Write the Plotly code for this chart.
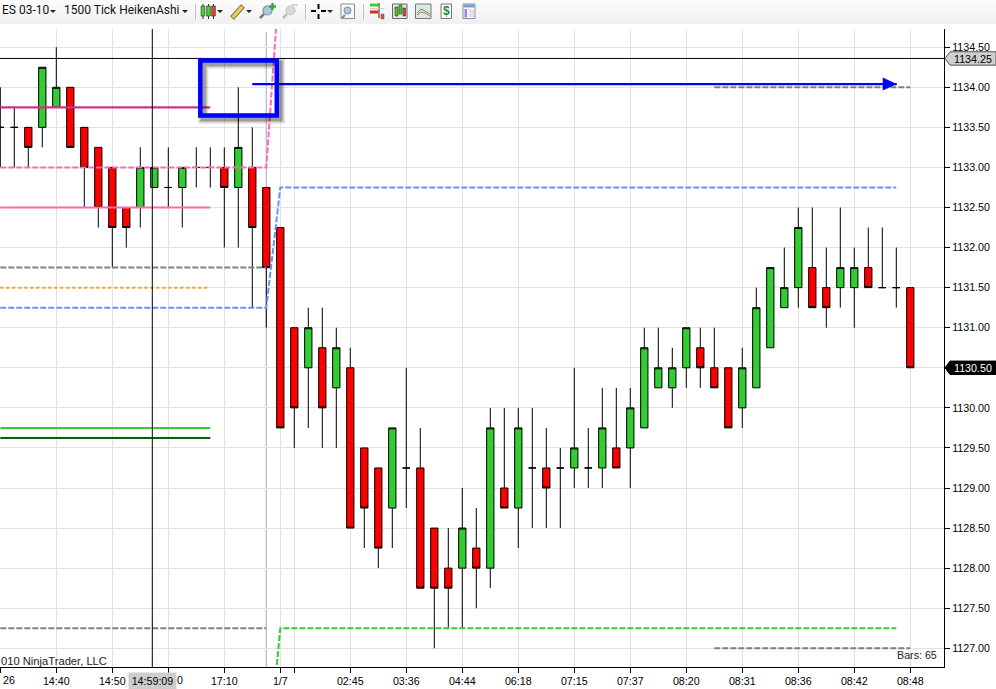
import plotly.graph_objects as go

W, H = 996, 689
L_PAD, R_PX, T_PX, B_PX = 0, 944, 29, 667

# ---- data ----
opens = [1133.5,1133.5,1133.5,1133.5,1133.75,1134,1133.5,1133.25,1133,1132.5,1132.5,1132.75,1132.75,1132.75,1133,1133,
         1133,1132.75,1133,1132.75,1132.25,1131,1130.5,1130.75,1130.25,1130.5,1129.5,1129.25,1128.75,1129.25,1129.25,
         1128.5,1128,1128,1128.25,1128,1129,1128.75,1129.25,1129.25,1129.25,1129.25,1129.25,1129.25,1129.5,1129.5,
         1129.75,1130.25,1130.25,1130.5,1130.75,1130.5,1130.5,1130,1130.25,1130.75,1131.25,1131.5,1131.75,1131.5,
         1131.5,1131.5,1131.75,1131.5,1131.5,1131.5]
highs = [1134,1133.75,1133.5,1134.25,1134.5,1134,1133.5,1133.25,1133,1132.5,1133.25,1133,1133.25,1133,1133.25,1133.25,
         1133.25,1134,1133.5,1132.75,1132.25,1131,1131.25,1131.25,1131,1130.75,1129.5,1129.25,1129.75,1130.5,1129.75,
         1128.5,1128.5,1129,1128.75,1130,1130,1130,1130,1129.75,1129.5,1130.5,1129.75,1130.25,1130.25,1130.25,
         1131,1131,1130.75,1131,1131,1131,1130.5,1130.75,1131.5,1131.75,1132,1132.5,1132.5,1132,
         1132.5,1132,1132.25,1132.25,1132,1131.5]
lows = [1133,1133,1133,1133.25,1133.75,1133.25,1132.5,1132.25,1131.75,1132,1132.25,1132.75,1132.5,1132.25,1132.75,1132.75,
        1132,1132,1131.25,1131,1129.75,1129.5,1129.75,1129.5,1129.5,1128.5,1128.25,1128,1128.25,1128.75,1127.75,
        1127,1127.25,1127.25,1127.5,1127.75,1128.75,1128.25,1128.5,1128.5,1128.5,1129,1129,1129,1129.25,1129,
        1129.75,1130.25,1130,1130.25,1130.25,1130.25,1129.75,1129.75,1130.25,1130.75,1131.25,1131.25,1131.25,1131,
        1131.25,1131,1131.5,1131.5,1131.25,1130.5]
closes = [1133.5,1133.5,1133.25,1134.25,1134,1133.25,1133,1132.5,1132.25,1132.25,1133,1133,1132.75,1133,1133,1133,
          1132.75,1133.25,1132.25,1131.75,1129.75,1130,1131,1130,1130.75,1128.5,1128.75,1128.25,1129.75,1129.25,1127.75,
          1127.75,1127.75,1128.5,1128,1129.75,1128.75,1129.75,1129.25,1129,1129.25,1129.5,1129.25,1129.75,1129.25,1130,
          1130.75,1130.5,1130.5,1131,1130.5,1130.25,1129.75,1130.5,1131.25,1131.75,1131.5,1132.25,1131.25,1131.25,
          1131.75,1131.75,1131.5,1131.5,1131.5,1130.5]
bar_index = list(range(len(opens)))

tick_index = [0, 4, 8, 12, 16, 20, 21, 25, 29, 33, 37, 41, 45, 49, 53, 57, 61, 65]
# the first label and the label behind the crosshair time are only partly visible: see annotations below
tick_labels = ["", "14:40", "14:50", "", "17:10", "1/7", "", "02:45", "03:36", "04:44",
               "06:18", "07:15", "07:37", "08:20", "08:31", "08:36", "08:42", "08:48"]
price_ticks = [1127 + 0.5 * k for k in range(16)]
last_price = 1130.5
cursor_price = 1134.25
price_labels = ["" if p == last_price else f"{p:.2f}" for p in price_ticks]

# indicator levels: (x indices, values)
mag_x, mag_y = [0, 15], [1133.75, 1133.75]
pink_x, pink_y = [0, 15], [1132.5, 1132.5]
orange_x, orange_y = [0, 15], [1131.5, 1131.5]
lime_x, lime_y = [0, 15], [1129.75, 1129.75]
dgreen_x, dgreen_y = [0, 15], [1129.625, 1129.625]
pinkd_x, pinkd_y = [0, 19, 20, 64], [1133, 1133, 1135.5, 1135.5]
blued_x, blued_y = [0, 19, 20, 64], [1131.25, 1131.25, 1132.75, 1132.75]
greend_x, greend_y = [19, 20, 64], [1125.4, 1127.25, 1127.25]
grey_a_x, grey_a_y = [0, 19], [1131.75, 1131.75]
grey_b_x, grey_b_y = [0, 19], [1127.25, 1127.25]
grey_c_x, grey_c_y = [51, 65], [1134, 1134]
grey_d_x, grey_d_y = [51, 65], [1127, 1127]
arrow_x, arrow_y = [18, 64.03], [1134.04, 1134.04]
cross_x, cross_y = 10.857, 1134.36


def ix(px):
    return (px - 0.3) / 14.0


x_range = [ix(0), ix(R_PX)]
PX_PER_PT = 80.14
def pr(py):
    return 1134 + (87.3 - py) / PX_PER_PT


y_range = [pr(B_PX), pr(T_PX)]
def xp(px):
    return px / R_PX
def yp(py):
    return (B_PX - py) / (B_PX - T_PX)


fig = go.Figure()


def level(x, y, color, width=2, dash="solid"):
    fig.add_trace(go.Scatter(x=x, y=y, mode="lines", line=dict(color=color, width=width, dash=dash),
                             hoverinfo="skip", showlegend=False))


DASH = "6px,2px"
level(mag_x, mag_y, "#c9348f", 2.2)
level(pink_x, pink_y, "#ff69b4", 2)
level(orange_x, orange_y, "#ff9a2e", 2, "dot")
level(lime_x, lime_y, "#32cd32", 2)
level(dgreen_x, dgreen_y, "#006400", 2)
level(pinkd_x, pinkd_y, "#ff69b4", 2, DASH)
level(blued_x, blued_y, "#6495ed", 2, DASH)
level(greend_x, greend_y, "#32cd32", 2, DASH)
level(grey_a_x, grey_a_y, "#808080", 2, DASH)
level(grey_b_x, grey_b_y, "#808080", 2, DASH)
level(grey_c_x, grey_c_y, "#808080", 2, DASH)
level(grey_d_x, grey_d_y, "#808080", 2, DASH)

fig.add_trace(go.Candlestick(
    x=bar_index, open=opens, high=highs, low=lows, close=closes, whiskerwidth=0,
    increasing=dict(fillcolor="#32cd32", line=dict(color="#000000", width=1)),
    decreasing=dict(fillcolor="#ff0000", line=dict(color="#000000", width=1)),
    hoverinfo="skip", showlegend=False))

level(arrow_x, arrow_y, "#0000ff", 2.3)

shapes = []
annots = []

# grid starts a little below the top of the axis
shapes.append(dict(type="rect", xref="paper", yref="paper", x0=0, x1=1, y0=yp(32), y1=1, layer="below",
                   fillcolor="#ffffff", line=dict(width=0)))
# session break and crosshair
shapes.append(dict(type="line", xref="x", yref="paper", x0=19, x1=19, y0=0, y1=yp(32), layer="below",
                   line=dict(color="#bdbdbd", width=1.3)))
shapes.append(dict(type="line", xref="x", yref="paper", x0=cross_x, x1=cross_x, y0=0, y1=1,
                   line=dict(color="#000000", width=1)))
shapes.append(dict(type="line", xref="paper", yref="y", x0=0, x1=1, y0=cross_y, y1=cross_y,
                   line=dict(color="#000000", width=1)))

# arrow head
shapes.append(dict(type="path", xref="x", yref="y", xsizemode="pixel", ysizemode="pixel",
                   xanchor=arrow_x[-1], yanchor=arrow_y[-1], path="M 0 0 L -14 6.5 L -14 -6.5 Z",
                   fillcolor="#0000ff", line=dict(width=0)))

# highlight box with soft shadow
for off, w, op in [(3, 11, 0.07), (3, 9, 0.09), (3, 7, 0.12), (3, 5, 0.16)]:
    shapes.append(dict(type="rect", xref="paper", yref="paper", x0=xp(200.3 + off), x1=xp(276.8 + off),
                       y0=yp(115.5 + off), y1=yp(60.5 + off), line=dict(color="rgba(0,0,0,%s)" % op, width=w)))
shapes.append(dict(type="rect", xref="paper", yref="paper", x0=xp(200.3), x1=xp(276.8), y0=yp(115.5), y1=yp(60.5),
                   line=dict(color="#0000ff", width=4.5)))

# price tags on the right axis
TAG = "M 1 0 L 6 -6.7 L 52 -6.7 L 52 6.7 L 6 6.7 Z"
shapes.append(dict(type="path", xref="paper", yref="y", xsizemode="pixel", ysizemode="pixel", xanchor=1,
                   yanchor=cross_y, path=TAG, fillcolor="#cfcfcf",
                   line=dict(color="#555555", width=1)))
shapes.append(dict(type="path", xref="paper", yref="y", xsizemode="pixel", ysizemode="pixel", xanchor=1,
                   yanchor=last_price, path=TAG, fillcolor="#000000", line=dict(color="#000000", width=1)))
annots.append(dict(xref="paper", yref="y", x=1, y=cross_y, xshift=8, yshift=-1, xanchor="left", yanchor="middle",
                   text=f"{cursor_price:.2f}", showarrow=False, font=dict(color="#000000", size=10.7)))
annots.append(dict(xref="paper", yref="y", x=1, y=last_price, xshift=8, yshift=0, xanchor="left", yanchor="middle",
                   text=f"{last_price:.2f}", showarrow=False, font=dict(color="#ffffff", size=10.7)))

# crosshair time, clipped tick labels, copyright, bars count
annots.append(dict(xref="x", yref="paper", x=cross_x, y=yp(680.5), yanchor="middle", xanchor="center",
                   text="14:59:09", showarrow=False, bgcolor="#cdcdcd", borderpad=2,
                   font=dict(color="#000000", size=10.7), width=43))
annots.append(dict(xref="paper", yref="paper", x=xp(175), y=yp(680), xanchor="left", yanchor="middle",
                   text="0", showarrow=False, font=dict(color="#000000", size=10.7)))
annots.append(dict(xref="paper", yref="paper", x=xp(1), y=yp(680), xanchor="left", yanchor="middle",
                   text="26", showarrow=False, font=dict(color="#000000", size=10.7)))
annots.append(dict(xref="paper", yref="paper", x=xp(-1), y=yp(661), xanchor="left", yanchor="middle",
                   text="010 NinjaTrader, LLC", showarrow=False, font=dict(color="#222222", size=11.2)))
annots.append(dict(xref="paper", yref="paper", x=xp(939), y=yp(655), xanchor="right", yanchor="middle",
                   text="Bars: 65", showarrow=False, font=dict(color="#222222", size=10.7)))

# ---- toolbar ----
strips = ["#fbfbfb", "#f9f9f9", "#f7f7f7", "#f5f5f5", "#f3f3f3", "#f1f1f1"]
for k, c in enumerate(strips):
    shapes.append(dict(type="rect", xref="paper", yref="paper", x0=0, x1=xp(W), y0=yp(4 * (k + 1)), y1=yp(4 * k),
                       fillcolor=c, line=dict(width=0)))
def rect(x0, y0, x1, y1, fill, line=None, lw=1):
    shapes.append(dict(type="rect", xref="paper", yref="paper", x0=xp(x0), x1=xp(x1), y0=yp(y1), y1=yp(y0),
                       fillcolor=fill, line=dict(color=line, width=lw) if line else dict(width=0)))
def seg(x0, y0, x1, y1, color, lw=1):
    shapes.append(dict(type="line", xref="paper", yref="paper", x0=xp(x0), x1=xp(x1), y0=yp(y0), y1=yp(y1),
                       line=dict(color=color, width=lw)))
def circ(x0, y0, x1, y1, fill, line, lw=1):
    shapes.append(dict(type="circle", xref="paper", yref="paper", x0=xp(x0), x1=xp(x1), y0=yp(y1), y1=yp(y0),
                       fillcolor=fill, line=dict(color=line, width=lw)))
def caret(cx, cy=11):
    shapes.append(dict(type="path", xref="paper", yref="paper",
                       path=f"M {xp(cx-3)} {yp(cy-1)} L {xp(cx+3)} {yp(cy-1)} L {xp(cx)} {yp(cy+2)} Z",
                       fillcolor="#222222", line=dict(width=0)))
for c in [53, 185, 220, 249, 330]:
    caret(c)
for s in [195.5, 305.5, 363.5]:
    seg(s, 4, s, 20, "#c4c4c4", 1)
for cx, col in [(203, "#44dd22"), (208.5, "#44dd22"), (213.5, "#ee4433")]:
    seg(cx, 4, cx, 19, "#333333", 1)
    rect(cx - 1.8, 6, cx + 1.8, 16, col, "#333333", 0.7)
seg(232, 18, 243, 6, "#555555", 5)
seg(232.5, 17.5, 242.5, 6.5, "#f6c945", 3.4)
seg(260, 18, 264, 14, "#777777", 2.5)
circ(263, 6, 272, 15, "#a9c8ea", "#8a8a8a", 1.2)
seg(272.5, 3, 272.5, 10, "#22b030", 2.4)
seg(269, 6.5, 276, 6.5, "#22b030", 2.4)
seg(283, 18, 287, 14, "#bbbbbb", 2.5)
circ(286, 6, 295, 15, "#d9d9d9", "#c8c8c8", 1.2)
seg(291, 5, 298, 5, "#c8c8c8", 1.5)
for a in [(311, 11, 316, 11), (321, 11, 326, 11), (318.5, 4, 318.5, 9), (318.5, 14, 318.5, 19)]:
    seg(*a, "#000000", 2)
rect(341, 4, 354.5, 18.5, "#f8f8f8", "#8c8c8c", 1)
seg(342, 18, 345, 15, "#888888", 2)
circ(344, 7, 351, 14, "#a9c8ea", "#8a8a8a", 1)
seg(370, 5, 378, 5, "#44cc22", 3)
seg(370, 12, 378, 12, "#ee2222", 3)
seg(379, 3, 379, 18, "#444444", 1.2)
rect(381, 14, 384, 19, "#ee4433", "#666666", 0.5)
seg(370, 8.5, 384, 8.5, "#cccccc", 1)
rect(392.5, 4, 407, 18.5, "#e8e8e8", "#666666", 1)
rect(395, 7, 398, 16, "#44cc22", "#333333", 0.6)
rect(399, 5, 402, 14, "#44cc22", "#333333", 0.6)
rect(403, 8, 405.5, 16, "#ee4433", "#333333", 0.6)
rect(415.5, 4, 431, 18.5, "#dfe7e0", "#777777", 1)
shapes.append(dict(type="path", xref="paper", yref="paper",
                   path=f"M {xp(417)} {yp(13)} L {xp(421)} {yp(9)} L {xp(425)} {yp(11)} L {xp(430)} {yp(14)}",
                   line=dict(color="#33aa66", width=1)))
shapes.append(dict(type="path", xref="paper", yref="paper",
                   path=f"M {xp(417)} {yp(15)} L {xp(421)} {yp(12)} L {xp(425)} {yp(13)} L {xp(430)} {yp(16)}",
                   line=dict(color="#dd6666", width=1)))
rect(441, 4, 451.5, 18.5, "#ffffff", "#777777", 1)
annots.append(dict(xref="paper", yref="paper", x=xp(446), y=yp(11.5), text="<b>$</b>", showarrow=False,
                   font=dict(color="#1f8a3a", size=12, family="Liberation Sans"), xanchor="center", yanchor="middle"))
rect(463, 4, 475, 18.5, "#ffffff", "#8a8a9a", 1)
rect(463.5, 4.5, 474.5, 7.5, "#6aa3d5")
rect(464.5, 9, 467, 17.5, "#9a7be8")
for yy in [10, 12, 14, 16]:
    seg(468.5, yy, 474, yy, "#c4c4d4", 1)
annots.append(dict(xref="paper", yref="paper", x=xp(0), y=yp(10.5), xanchor="left", yanchor="middle", text="ES 03-10",
                   showarrow=False, font=dict(color="#111111", size=12, family="Roboto")))
annots.append(dict(xref="paper", yref="paper", x=xp(62), y=yp(10.5), xanchor="left", yanchor="middle",
                   text="1500 Tick HeikenAshi", showarrow=False, font=dict(color="#111111", size=12, family="Roboto")))

fig.update_layout(
    width=W, height=H, margin=dict(l=0, r=W - R_PX, t=T_PX, b=H - B_PX, pad=0, autoexpand=False),
    paper_bgcolor="#ffffff", plot_bgcolor="#ffffff", showlegend=False, boxgap=0.48, boxgroupgap=0,
    font=dict(family="Liberation Sans, Arial", size=10.7, color="#000000"),
    shapes=shapes, annotations=annots,
    xaxis=dict(type="linear", range=x_range, tickmode="array", tickvals=tick_index, ticktext=tick_labels,
               showgrid=True, gridcolor="#e2e2e2", gridwidth=1, zeroline=False, showline=True, linecolor="#000000",
               linewidth=1, ticks="outside", ticklen=5, tickcolor="#000000", tickwidth=1, rangeslider=dict(visible=False),
               tickangle=0, fixedrange=True, ticklabelstandoff=-1),
    yaxis=dict(side="right", range=y_range, tickmode="array", tickvals=price_ticks, ticktext=price_labels,
               showgrid=True, gridcolor="#e2e2e2", gridwidth=1, zeroline=False, showline=True, linecolor="#000000",
               linewidth=1, ticks="outside", ticklen=5, tickcolor="#000000", tickwidth=1, fixedrange=True),
)

fig.write_html("out.html", config=dict(displayModeBar=False),
               post_script="document.body.style.margin='0';document.body.style.overflow='hidden';")
